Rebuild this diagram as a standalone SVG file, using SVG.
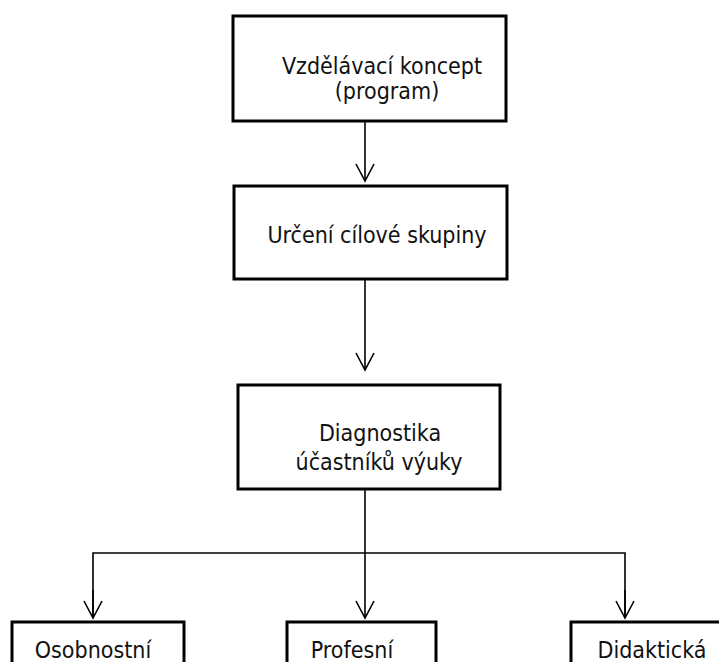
<svg xmlns="http://www.w3.org/2000/svg" width="719" height="662" viewBox="0 0 719 662">
  <defs>
    <!-- open V arrowhead; x runs along the line, tip at the line end -->
    <marker id="vhead" markerUnits="userSpaceOnUse" markerWidth="22" markerHeight="22" viewBox="-19 -11 22 22" refX="0" refY="0" orient="auto" overflow="visible">
      <path d="M -17 -9 L 0 0 L -17 9" fill="none" stroke="#000" stroke-width="1.6" stroke-linejoin="miter"/>
    </marker>
  </defs>
  <style>
    .box { fill: #fff; stroke: #000; stroke-width: 3; }
    .lbl { font-family: "DejaVu Sans Condensed", "DejaVu Sans", sans-serif; font-size: 23px; fill: #111; text-anchor: middle; }
    .wire { fill: none; stroke: #000; stroke-width: 1.6; }
  </style>
  <rect width="719" height="662" fill="#fff"/>

  <g id="connectors">
    <line class="wire" x1="365" y1="122" x2="365" y2="181" marker-end="url(#vhead)"/>
    <line class="wire" x1="365" y1="280" x2="365" y2="370" marker-end="url(#vhead)"/>
    <line class="wire" x1="365" y1="490" x2="365" y2="618" marker-end="url(#vhead)"/>
    <polyline class="wire" points="93,618 93,553 625,553 625,618"/>
    <line class="wire" x1="93" y1="590" x2="93" y2="618" marker-end="url(#vhead)"/>
    <line class="wire" x1="625" y1="590" x2="625" y2="618" marker-end="url(#vhead)"/>
  </g>

  <g id="node-koncept">
    <rect class="box" x="233" y="16" width="273" height="105"/>
    <text class="lbl" x="382" y="74">Vzdělávací koncept</text>
    <text class="lbl" x="387" y="99">(program)</text>
  </g>

  <g id="node-skupina">
    <rect class="box" x="234" y="186" width="273" height="93"/>
    <text class="lbl" x="377" y="243">Určení cílové skupiny</text>
  </g>

  <g id="node-diagnostika">
    <rect class="box" x="238" y="385" width="262" height="104"/>
    <text class="lbl" x="380" y="441">Diagnostika</text>
    <text class="lbl" x="379" y="470">účastníků výuky</text>
  </g>

  <g id="node-osobnostni">
    <rect class="box" x="12" y="622" width="172" height="60"/>
    <text class="lbl" x="93" y="658">Osobnostní</text>
  </g>

  <g id="node-profesni">
    <rect class="box" x="287" y="622" width="149" height="60"/>
    <text class="lbl" x="352" y="658">Profesní</text>
  </g>

  <g id="node-didakticka">
    <rect class="box" x="571" y="622" width="160" height="60"/>
    <text class="lbl" x="652" y="658">Didaktická</text>
  </g>
</svg>
